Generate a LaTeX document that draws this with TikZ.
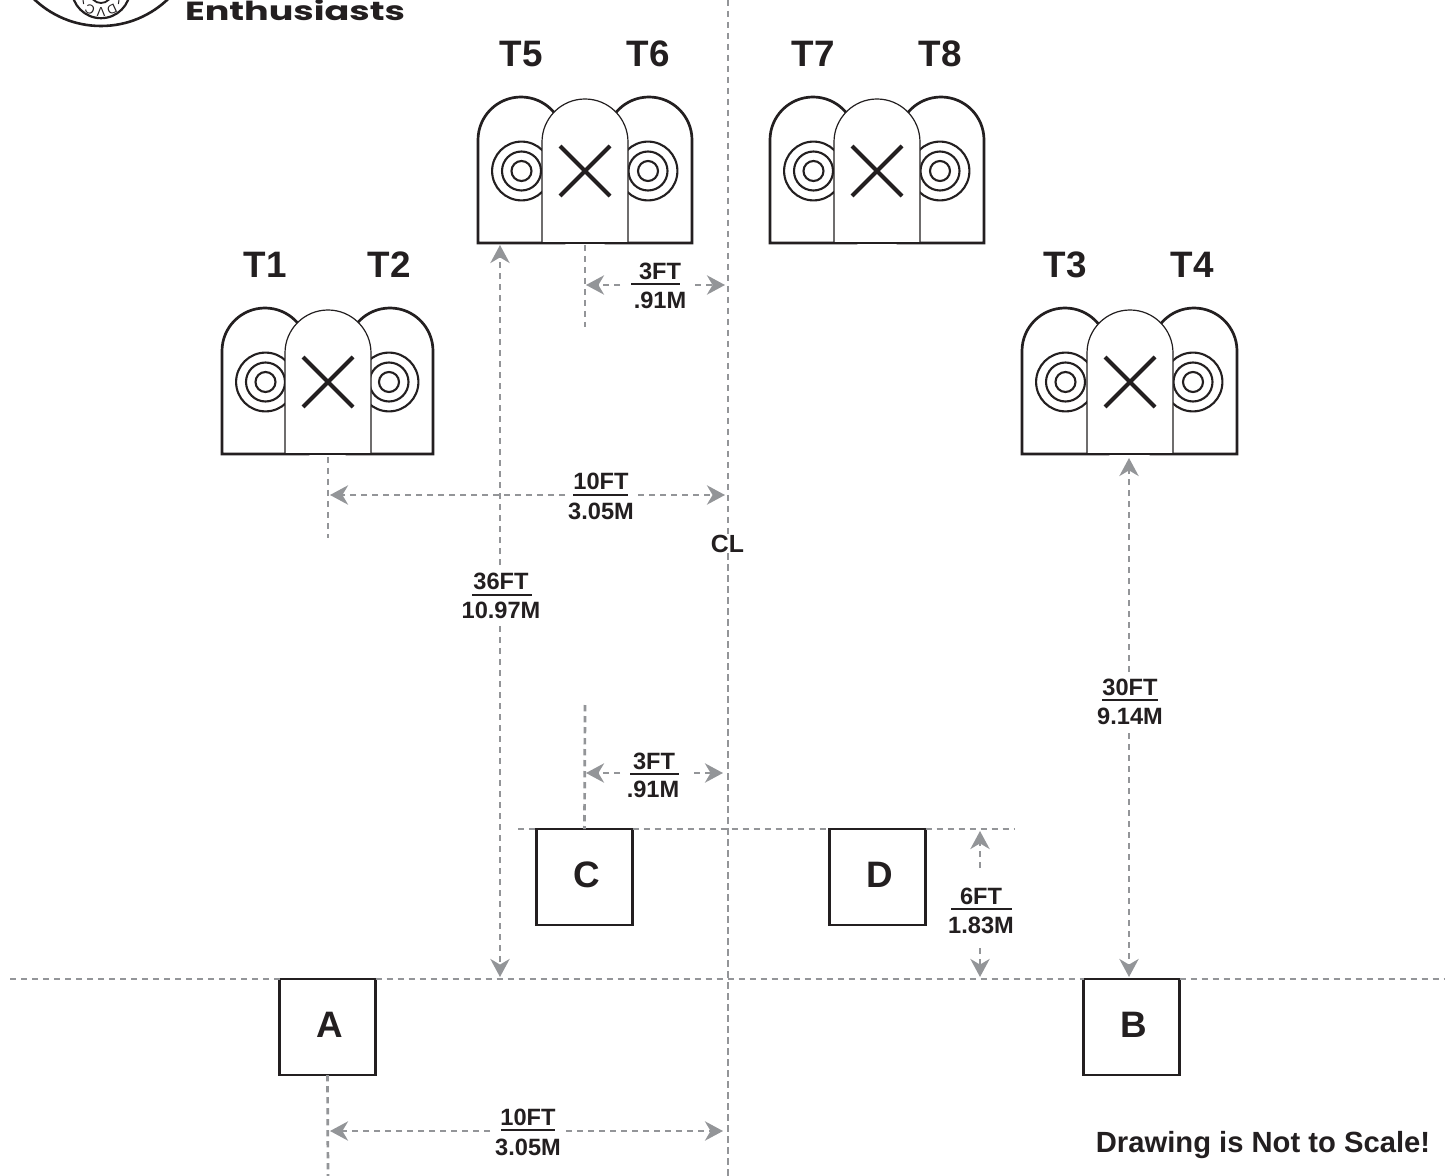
\documentclass[tikz,border=0pt]{standalone}
\usepackage{fontspec}
\setmainfont{Liberation Sans}
\newfontfamily\logofont{Poppins}
\usetikzlibrary{arrows.meta}
\definecolor{ink}{HTML}{231F20}
\definecolor{guide}{HTML}{939598}
\tikzset{
  guideline/.style={draw=guide,line width=1.35pt,dash pattern=on 3.2pt off 2.3pt},
  dimline/.style={guideline,-{Stealth[length=9pt,width=9.6pt,inset=2.8pt,fill=guide,color=guide]}},
  dimtext/.style={inner sep=0pt,text=ink,font=\bfseries\fontsize{11.8}{14}\selectfont},
  bigtext/.style={inner sep=0pt,text=ink,font=\bfseries\fontsize{18.4}{22}\selectfont},
  rulebar/.style={draw=ink,line width=.75pt},
  square/.style={draw=ink,fill=white,line width=1.35pt,minimum size=48pt,inner sep=0pt,outer sep=0pt,text=ink,font=\bfseries\fontsize{18.4}{22}\selectfont},
  thickline/.style={draw=ink,line width=1.35pt},
  thinline/.style={draw=ink,line width=.6pt},
}
\newcommand{\spkgroup}[4]{%
  \begin{scope}[shift={(#1,#2)}]
    \path[thickline,fill=white] (0,0) -- (0,103) arc[start angle=180,end angle=0,radius=21.5pt] -- (86,0) -- cycle;
    \path[thickline,fill=white] (#4,0) -- (#4,103) arc[start angle=180,end angle=0,radius=21.5pt] -- ++(0,-103) -- cycle;
    \foreach \cx in {43.5,#4+42}{
      \foreach \cr in {14.7pt,9.75pt,5pt}{
        \draw[ink,line width=1.05pt] (\cx,72) circle[radius=\cr];
      }
    }
    \path[thinline,fill=white] (#3,0) -- (#3,101) arc[start angle=180,end angle=0,radius=21.5pt] -- ++(0,-101) -- cycle;
    \draw[thickline] (0,0) -- (#4+86,0);
    \draw[ink,line width=2pt] (#3+18,47) -- (#3+68,97) (#3+18,97) -- (#3+68,47);
  \end{scope}}
\newcommand{\sqlabel}[1]{\hspace{2pt}\raisebox{2pt}{#1}}
\begin{document}
\begin{tikzpicture}[x=.5pt,y=.5pt]
\useasboundingbox (0,0) rectangle (1451,-1176);
\fill[white] (0,0) rectangle (1451,-1176);

% logo
\begin{scope}
  \clip (0,0) rectangle (1451,-1176);
  \draw[ink,line width=1.3pt] (101,70.8) circle[radius=48.4pt];
  \draw[ink,line width=1.1pt] (101,11) circle[radius=14.6pt];
  \draw[ink,line width=.9pt] (101,8) circle[radius=5.5pt];
  \node[rotate=205,inner sep=0pt,text=ink,font=\fontsize{6.5}{7}\selectfont] (lgd) at (112,-9.5) {D};
  \node[rotate=180,inner sep=0pt,text=ink,font=\fontsize{6.5}{7}\selectfont] (lgv) at (101,-12) {V};
  \node[rotate=155,inner sep=0pt,text=ink,font=\fontsize{6.5}{7}\selectfont] (lgc) at (90,-9.5) {C};
  \draw[ink,line width=.5pt] (83,0) -- (83.6,-4) (119,0) -- (118.4,-4);
  \node[anchor=south west,inner sep=0pt,outer sep=0pt,text=ink] (ent) at (185,-21)
    {\resizebox{110pt}{10.5pt}{\logofont\bfseries Enthusiasts}};
\end{scope}

% speakers
\spkgroup{478}{-243}{64}{128}
\spkgroup{770}{-243}{64}{128}
\spkgroup{222}{-454}{63}{125}
\spkgroup{1022}{-454}{65}{129}

% squares
\node[square] (C) at (584.5,-877) {\sqlabel{C}};
\node[square] (D) at (877.5,-877) {\sqlabel{D}};
\node[square] (A) at (327.5,-1027) {\sqlabel{A}};
\node[square] (B) at (1131.5,-1027) {\sqlabel{B}};

% titles
\node[bigtext] (t5) at (521,-54) {T5};
\node[bigtext] (t6) at (648,-54) {T6};
\node[bigtext] (t7) at (813,-54) {T7};
\node[bigtext] (t8) at (940,-54) {T8};
\node[bigtext] (t1) at (265,-265) {T1};
\node[bigtext] (t2) at (389,-265) {T2};
\node[bigtext] (t3) at (1065,-265) {T3};
\node[bigtext] (t4) at (1192,-265) {T4};

% centre line
\node[dimtext,font=\bfseries\fontsize{12.4}{14}\selectfont] (cl) at (727.5,-544) {CL};
\coordinate (cltop) at (728,0);
\coordinate (clbot) at (728,-1176);
\draw[guideline] (cltop) -- (cl.north -| cltop);
\draw[guideline] (cl.south -| cltop) -- (clbot);

% guide lines
\coordinate (hl) at (10,-979);
\coordinate (hr) at (1445,-979);
\coordinate (ml) at (518,-829);
\coordinate (mr) at (1015,-829);
\draw[guideline] (hl) -- (A.north west);
\draw[guideline] (A.north east) -- (B.north west);
\draw[guideline] (B.north east) -- (hr);
\draw[guideline] (ml) -- (C.north west);
\draw[guideline] (C.north east) -- (D.north west);
\draw[guideline] (D.north east) -- (mr);
\coordinate (up1) at (585,-245);
\coordinate (up2) at (585,-327);
\draw[guideline] (up1) -- (up2);
\coordinate (lo1) at (585,-705);
\draw[guideline] (lo1) -- (C.north);
\coordinate (t1a) at (328,-457);
\coordinate (t1b) at (328,-538);
\draw[guideline] (t1a) -- (t1b);
\coordinate (abot) at (328,-1176);
\draw[guideline] (A.south) -- (abot);

% 3FT upper
\node[dimtext] (u3t) at (660,-271) {3FT};
\draw[rulebar] (631,-284) coordinate (u3a) -- (680,-284) coordinate (u3b);
\node[dimtext] (u3m) at (660,-300) {.91M};
\coordinate (u3l) at (586,-285); \coordinate (u3r) at (725,-285);
\draw[dimline] (620,-285) coordinate (u3g) -- (u3l);
\draw[dimline] (695,-285) coordinate (u3h) -- (u3r);

% 10FT mid
\node[dimtext] (m10t) at (601,-481) {10FT};
\draw[rulebar] (573,-495) coordinate (m10a) -- (628,-495) coordinate (m10b);
\node[dimtext] (m10m) at (601,-511) {3.05M};
\coordinate (m10l) at (330,-495); \coordinate (m10r) at (725,-495);
\draw[dimline] (565,-495) coordinate (m10g) -- (m10l);
\draw[dimline] (638,-495) coordinate (m10h) -- (m10r);

% 36FT
\node[dimtext] (v36t) at (501,-581) {36FT};
\draw[rulebar] (472,-595) coordinate (v36a) -- (532,-595) coordinate (v36b);
\node[dimtext] (v36m) at (501,-610) {10.97M};
\coordinate (v36u) at (500,-245); \coordinate (v36d) at (500,-977);
\draw[dimline] (500,-565) coordinate (v36g) -- (v36u);
\draw[dimline] (500,-626) coordinate (v36h) -- (v36d);

% 30FT
\node[dimtext] (v30t) at (1130,-687) {30FT};
\draw[rulebar] (1102,-700) coordinate (v30a) -- (1158,-700) coordinate (v30b);
\node[dimtext] (v30m) at (1130,-716) {9.14M};
\coordinate (v30u) at (1129,-458); \coordinate (v30d) at (1129,-977);
\draw[dimline] (1129,-672) coordinate (v30g) -- (v30u);
\draw[dimline] (1129,-733) coordinate (v30h) -- (v30d);

% 3FT lower
\node[dimtext] (l3t) at (654,-761) {3FT};
\draw[rulebar] (630,-774) coordinate (l3a) -- (679,-774) coordinate (l3b);
\node[dimtext] (l3m) at (653,-789) {.91M};
\coordinate (l3l) at (586,-773); \coordinate (l3r) at (723,-773);
\draw[dimline] (620,-773) coordinate (l3g) -- (l3l);
\draw[dimline] (694,-773) coordinate (l3h) -- (l3r);

% 6FT
\node[dimtext] (v6t) at (981,-896) {6FT};
\draw[rulebar] (951,-909) coordinate (v6a) -- (1012,-909) coordinate (v6b);
\node[dimtext] (v6m) at (981,-925) {1.83M};
\coordinate (v6u) at (980,-831); \coordinate (v6d) at (980,-977);
\draw[dimline] (980,-868) coordinate (v6g) -- (v6u);
\draw[dimline] (980,-948) coordinate (v6h) -- (v6d);

% 10FT bottom
\node[dimtext] (b10t) at (528,-1117) {10FT};
\draw[rulebar] (501,-1130) coordinate (b10a) -- (555,-1130) coordinate (b10b);
\node[dimtext] (b10m) at (528,-1147) {3.05M};
\coordinate (b10l) at (330,-1131); \coordinate (b10r) at (723,-1131);
\draw[dimline] (490,-1131) coordinate (b10g) -- (b10l);
\draw[dimline] (566,-1131) coordinate (b10h) -- (b10r);

% note
\node[inner sep=0pt,text=ink,font=\bfseries\fontsize{14.6}{18}\selectfont] (note) at (1263,-1145) {Drawing is Not to Scale!};
\end{tikzpicture}
\end{document}
